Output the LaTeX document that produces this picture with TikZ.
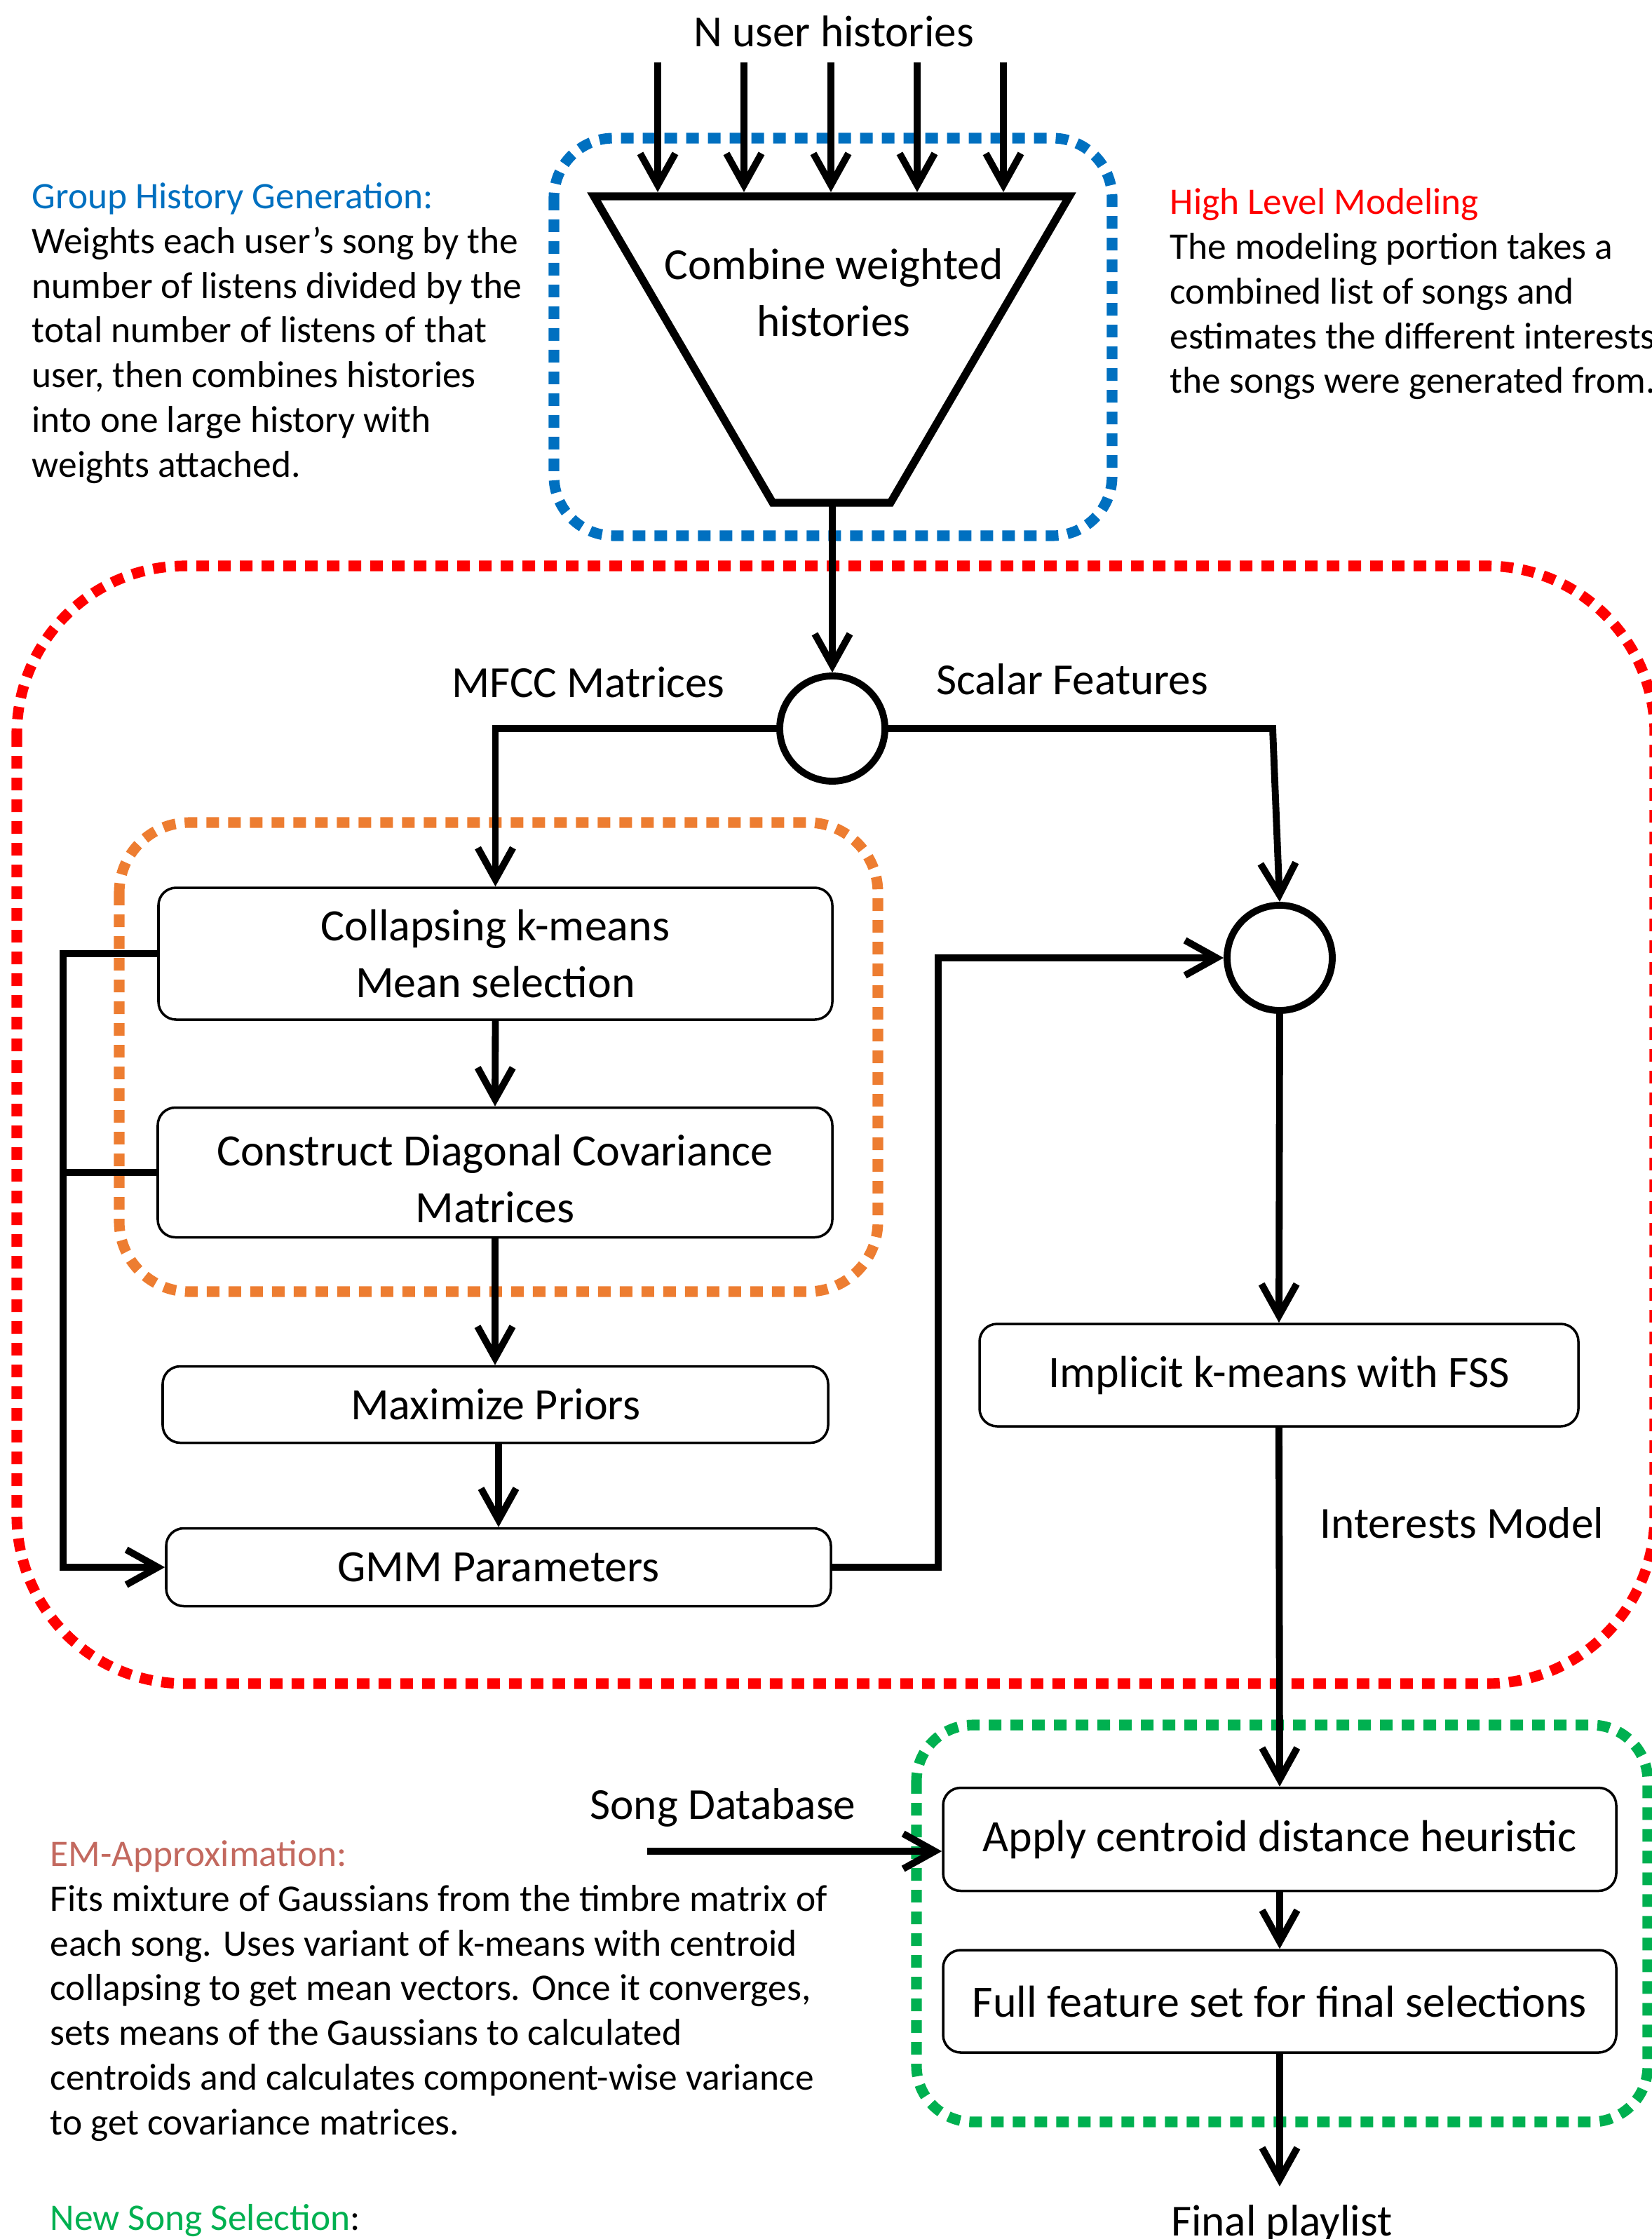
\documentclass[tikz,border=0pt]{standalone}
\usepackage{fontspec}
\setmainfont{Carlito}
\usepackage{xcolor}
\usepackage{tikz}
\usetikzlibrary{shapes.geometric}
\usetikzlibrary{arrows.meta}

\definecolor{histblue}{RGB}{0,112,192}
\definecolor{modelred}{RGB}{255,0,0}
\definecolor{emorange}{RGB}{237,125,49}
\definecolor{emrose}{RGB}{195,105,95}
\definecolor{selgreen}{RGB}{0,176,80}

\tikzset{
    flow/.style = {line width = 2.8pt, -{Straight Barb[length = 4.5mm, width = 5mm]}},
    wire/.style = {line width = 2.8pt},
    box/.style = {draw, line width = 1pt, rounded corners = 0.25cm, align = center,
        inner sep = 0pt, font = \fontsize{18.2}{23}\selectfont},
    junction/.style = {circle, draw, line width = 2.8pt, minimum size = 1.5cm, inner sep = 0pt},
    group/.style = {line width = 4.3pt, dash pattern = on 0.18cm off 0.13cm},
    note/.style = {anchor = north west, align = left, inner sep = 0pt,
        font = \fontsize{15.2}{18.14}\selectfont},
    label/.style = {font = \fontsize{18}{23}\selectfont}
}

\begin{document}
\begin{tikzpicture}
        \useasboundingbox (0, 0) rectangle (23.56, -31.93);

        % dotted groups
        \draw[group, histblue, rounded corners = 0.85cm] (7.90, -1.97) rectangle (15.86, -7.64);
        \draw[group, modelred, rounded corners = 2.4cm] (0.24, -8.07) rectangle (23.60, -24.01);
        \draw[group, emorange, rounded corners = 1cm] (1.70, -11.73) rectangle (12.52, -18.42);
        \draw[group, selgreen, rounded corners = 0.8cm] (13.07, -24.60) rectangle (23.50, -30.26);

        % funnel
        \draw[line width = 3.2pt] (8.47, -2.80) -- (15.25, -2.80) -- (12.70, -7.17) -- (11.02, -7.17) -- cycle;
        \node[label, align = center] (combine) at (11.89, -4.17) {Combine weighted\\histories};
        \coordinate (funnelout) at (11.87, -7.17);

        \node[label] (users) at (11.89, -0.45) {N user histories};
        \foreach \x [count = \i] in {9.38, 10.61, 11.85, 13.08, 14.31} {
            \coordinate (src\i) at (\x, -0.89);
            \coordinate (dst\i) at (\x, -2.74);
            \draw[flow] (src\i) -- (dst\i);
        }

        % modeling
        \node[junction] (split) at (11.87, -10.39) {};
        \node[junction] (merge) at (18.25, -13.66) {};
        \node[label] (mfcc) at (8.39, -9.73) {MFCC Matrices};
        \node[label] (scalar) at (15.29, -9.69) {Scalar Features};

        \node[box, minimum width = 9.61cm, minimum height = 1.88cm] (collapse) at (7.065, -13.60)
            {Collapsing k-means\\Mean selection};
        \node[box, minimum width = 9.62cm, minimum height = 1.85cm] (construct) at (7.06, -16.72)
            {\rule{0pt}{0.62cm}Construct Diagonal Covariance\\Matrices};
        \node[box, minimum width = 9.49cm, minimum height = 1.09cm] (priors) at (7.065, -20.03)
            {Maximize Priors};
        \node[box, minimum width = 9.48cm, minimum height = 1.11cm] (gmm) at (7.11, -22.35)
            {GMM Parameters};
        \node[box, minimum width = 8.54cm, minimum height = 1.46cm] (implicit) at (18.24, -19.61)
            {Implicit k-means with FSS};
        \node[label] (interests) at (20.85, -21.72) {Interests Model};

        \draw[flow] (funnelout) -- (split.north);
        \draw[flow] (split.west) -| (collapse.north);
        \coordinate (scalarbend) at (18.15, -10.39);
        \draw[flow] (split.east) -- (scalarbend) -- (merge.north);
        \draw[flow] (collapse.south) -- (construct.north);
        \draw[flow] (construct.south) -- (construct.south |- priors.north);
        \draw[flow] (gmm.north |- priors.south) -- (gmm.north);
        \coordinate (loopx) at (0.90, -13.60);
        \draw[flow] (collapse.west) -- (loopx) |- (gmm.west);
        \draw[wire] (construct.west) -- (construct.west -| loopx);
        \coordinate (gmmbend) at (13.38, -22.35);
        \draw[flow] (gmm.east) -- (gmmbend) |- (merge.west);
        \draw[flow] (merge.south) -- (implicit.north);

        % selection
        \node[box, minimum width = 9.60cm, minimum height = 1.47cm] (apply) at (18.25, -26.23)
            {Apply centroid distance heuristic};
        \node[box, minimum width = 9.60cm, minimum height = 1.46cm] (full) at (18.25, -28.54)
            {Full feature set for final selections};
        \node[label] (songdb) at (10.31, -25.78) {Song Database};
        \coordinate (songsrc) at (9.23, -26.40);
        \coordinate (playlist) at (18.25, -31.18);
        \node[label, anchor = base] (final) at (18.28, -31.88) {Final playlist};

        \draw[flow] (implicit.south) -- (apply.north);
        \draw[flow] (songsrc) -- (songsrc -| apply.west);
        \draw[flow] (apply.south) -- (full.north);
        \draw[flow] (full.south) -- (playlist);

        % notes
        \node[note] (histnote) at (0.45, -2.60) {\textcolor{histblue}{Group History Generation:}\\
            Weights each user’s song by the\\number of listens divided by the\\
            total number of listens of that\\user, then combines histories\\
            into one large history with\\weights attached.};
        \node[note] (modelnote) at (16.68, -2.68) {\textcolor{modelred}{High Level Modeling}\\
            The modeling portion takes a\\combined list of songs and\\
            estimates the different interests\\the songs were generated from.};
        \node[note] (emnote) at (0.71, -26.24) {\textcolor{emrose}{EM-Approximation:}\\
            Fits mixture of Gaussians from the timbre matrix of\\
            each song. Uses variant of k-means with centroid\\
            collapsing to get mean vectors. Once it converges,\\
            sets means of the Gaussians to calculated\\
            centroids and calculates component-wise variance\\
            to get covariance matrices.};
        \node[note] (selnote) at (0.71, -31.43) {\textcolor{selgreen}{New Song Selection}:};
    \end{tikzpicture}
\end{document}
